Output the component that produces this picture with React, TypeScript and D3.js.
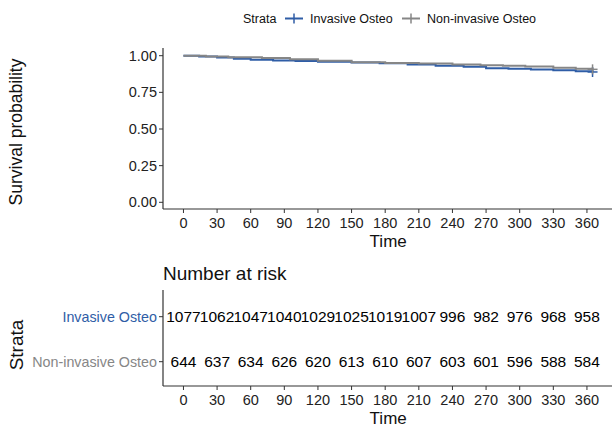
import React from "react";
import * as d3 from "d3";

const strata = ["Invasive Osteo", "Non-invasive Osteo"];
const colors = ["#2F5DA6", "#868686"];

// survival curve steps
const invasiveTime = [0, 14, 30, 45, 60, 80, 100, 120, 150, 175, 200, 225, 250, 270, 290, 310, 330, 350, 365];
const invasiveSurv = [1.0, 0.994, 0.987, 0.98, 0.972, 0.968, 0.963, 0.958, 0.953, 0.948, 0.94, 0.932, 0.925, 0.915, 0.911, 0.906, 0.9, 0.894, 0.889];
const nonInvasiveTime = [0, 20, 40, 70, 95, 120, 150, 180, 210, 240, 265, 285, 305, 330, 350, 365];
const nonInvasiveSurv = [1.0, 0.995, 0.99, 0.984, 0.975, 0.965, 0.956, 0.951, 0.946, 0.94, 0.935, 0.931, 0.926, 0.917, 0.911, 0.907];

const riskTimes = [0, 30, 60, 90, 120, 150, 180, 210, 240, 270, 300, 330, 360];
const invasiveRisk = [1077, 1062, 1047, 1040, 1029, 1025, 1019, 1007, 996, 982, 976, 968, 958];
const nonInvasiveRisk = [644, 637, 634, 626, 620, 613, 610, 607, 603, 601, 596, 588, 584];
const yTicks = [0, 0.25, 0.5, 0.75, 1.0];

const FONT = "'Liberation Sans', Arial, sans-serif";

export default function App() {
  const x = d3.scaleLinear().domain([-18.25, 383.25]).range([163, 613]);
  const y = d3.scaleLinear().domain([0, 1]).range([202.3, 55.7]);
  const rowY = d3.scalePoint().domain(strata).range([316.7, 361.7]);

  const curves = [
    { t: invasiveTime, s: invasiveSurv },
    { t: nonInvasiveTime, s: nonInvasiveSurv },
  ];
  const risks = [invasiveRisk, nonInvasiveRisk];

  const line = d3
    .line<[number, number]>()
    .x((d) => x(d[0]))
    .y((d) => y(d[1]))
    .curve(d3.curveStepAfter);

  const topAxisY = 209;
  const tableAxisY = 386;

  return (
    <svg
      width={612}
      height={430}
      style={{ position: "absolute", left: 0, top: 0, background: "#fff" }}
      fontFamily={FONT}
    >
      {/* legend */}
      <g transform="translate(0,18.5)">
        <text x={243} y={0} dy="0.35em" fontSize={12.5} fill="#111">Strata</text>
        <line x1={285} x2={303} y1={0} y2={0} stroke={colors[0]} strokeWidth={2} />
        <line x1={294} x2={294} y1={-5} y2={5} stroke={colors[0]} strokeWidth={1.5} />
        <text x={310} y={0} dy="0.35em" fontSize={12.5} fill="#111">{strata[0]}</text>
        <line x1={402} x2={420} y1={0} y2={0} stroke={colors[1]} strokeWidth={2} />
        <line x1={411} x2={411} y1={-5} y2={5} stroke={colors[1]} strokeWidth={1.5} />
        <text x={427} y={0} dy="0.35em" fontSize={12.5} fill="#111">{strata[1]}</text>
      </g>

      {/* survival plot */}
      <text
        transform={`translate(22,132) rotate(-90)`}
        textAnchor="middle"
        fontSize={17.5}
        fill="#111"
      >
        Survival probability
      </text>
      {yTicks.map((v) => (
        <g key={v} transform={`translate(163,${y(v)})`}>
          <line x1={-4} x2={0} stroke="#333" />
          <text x={-6} dy="0.35em" textAnchor="end" fontSize={14.5} fill="#222">
            {v.toFixed(2)}
          </text>
        </g>
      ))}
      <line x1={163} x2={163} y1={48} y2={topAxisY} stroke="#333" strokeWidth={1.2} />
      <line x1={163} x2={612} y1={topAxisY} y2={topAxisY} stroke="#333" strokeWidth={1.2} />
      {riskTimes.map((t) => (
        <g key={t} transform={`translate(${x(t)},${topAxisY})`}>
          <line y1={0} y2={4} stroke="#333" />
          <text y={14} dy="0.35em" textAnchor="middle" fontSize={14.5} fill="#222">{t}</text>
        </g>
      ))}
      <text x={x(180) + 3} y={241} dy="0.35em" textAnchor="middle" fontSize={17} fill="#111">Time</text>

      {curves.map((c, i) => {
        const pts = c.t.map((t, j) => [t, c.s[j]] as [number, number]);
        const last = pts[pts.length - 1];
        return (
          <g key={i}>
            <path d={line(pts) ?? ""} fill="none" stroke={colors[i]} strokeWidth={2} />
            <line
              x1={x(last[0])}
              x2={x(last[0])}
              y1={y(last[1]) - 5}
              y2={y(last[1]) + 5}
              stroke={colors[i]}
              strokeWidth={1.5}
            />
            <line
              x1={x(last[0]) - 5}
              x2={x(last[0]) + 5}
              y1={y(last[1])}
              y2={y(last[1])}
              stroke={colors[i]}
              strokeWidth={1.5}
            />
          </g>
        );
      })}

      {/* risk table */}
      <text x={163} y={273} dy="0.35em" fontSize={19} fill="#111">Number at risk</text>
      <text
        transform={`translate(23,345) rotate(-90)`}
        textAnchor="middle"
        fontSize={19}
        fill="#111"
      >
        Strata
      </text>
      <line x1={163} x2={163} y1={290} y2={tableAxisY} stroke="#333" strokeWidth={1.2} />
      <line x1={163} x2={612} y1={tableAxisY} y2={tableAxisY} stroke="#333" strokeWidth={1.2} />
      {strata.map((s, i) => (
        <g key={s} transform={`translate(163,${rowY(s)})`}>
          <line x1={-4} x2={0} stroke="#333" />
          <text x={-6} dy="0.35em" textAnchor="end" fontSize={14.3} fill={colors[i]}>{s}</text>
        </g>
      ))}
      {risks.map((r, i) =>
        r.map((n, j) => (
          <text
            key={`${i}-${j}`}
            x={x(riskTimes[j])}
            y={rowY(strata[i])}
            dy="0.35em"
            textAnchor="middle"
            fontSize={15.5}
            fill="#000"
          >
            {n}
          </text>
        ))
      )}
      {riskTimes.map((t) => (
        <g key={t} transform={`translate(${x(t)},${tableAxisY})`}>
          <line y1={0} y2={4} stroke="#333" />
          <text y={14} dy="0.35em" textAnchor="middle" fontSize={14.5} fill="#222">{t}</text>
        </g>
      ))}
      <text x={x(180) + 3} y={418} dy="0.35em" textAnchor="middle" fontSize={17} fill="#111">Time</text>
    </svg>
  );
}
